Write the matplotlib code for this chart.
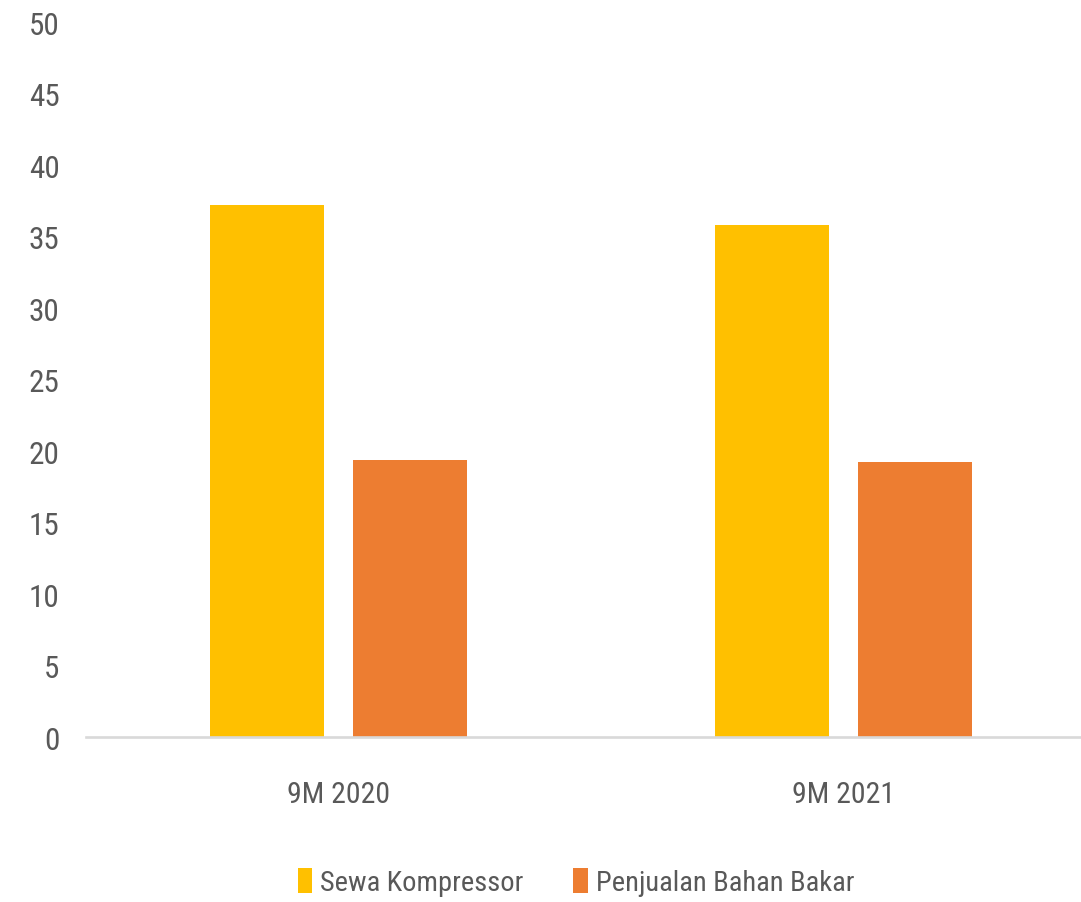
import matplotlib.pyplot as plt
import numpy as np

# Chart data
categories = ["9M 2020", "9M 2021"]
sewa_kompressor = [37.2, 35.8]
penjualan_bahan_bakar = [19.4, 19.2]
y_ticks = [0, 5, 10, 15, 20, 25, 30, 35, 40, 45, 50]

COLORS = {
    "Sewa Kompressor": "#FFC000",
    "Penjualan Bahan Bakar": "#ED7D31",
}
TEXT_COLOR = "#595959"

plt.rcParams['font.family'] = ['Liberation Sans Narrow', 'Roboto Condensed',
                               'Liberation Sans', 'DejaVu Sans']

fig = plt.figure(figsize=(10.81, 9.03), dpi=100)
ax = fig.add_axes([0.0796, 0.1827, 0.934, 0.7918])

x = np.arange(len(categories))
bar_width = 0.2255
offset = 0.1414

ax.bar(x - offset, sewa_kompressor, bar_width,
       color=COLORS["Sewa Kompressor"], label="Sewa Kompressor")
ax.bar(x + offset, penjualan_bahan_bakar, bar_width,
       color=COLORS["Penjualan Bahan Bakar"], label="Penjualan Bahan Bakar")

ax.set_xlim(-0.5, 1.5)
ax.set_ylim(0, 50)
ax.set_yticks(y_ticks)
ax.set_xticks(x)
ax.set_xticklabels(categories)

# Axis styling: only a light gray baseline
for side in ["top", "right", "left"]:
    ax.spines[side].set_visible(False)
ax.spines["bottom"].set_color("#D9D9D9")
ax.spines["bottom"].set_linewidth(1.9)

ax.tick_params(axis='y', length=0, pad=19, labelsize=22.5, labelcolor=TEXT_COLOR)
ax.tick_params(axis='x', length=0, pad=31, labelsize=21.5, labelcolor=TEXT_COLOR)

fig.legend(loc='center', bbox_to_anchor=(576 / 1081, 1 - 883 / 903),
           ncol=2, frameon=False, fontsize=20.5, labelcolor=TEXT_COLOR,
           handlelength=0.5, handleheight=1.0, handletextpad=0.28,
           columnspacing=1.75)

fig.savefig("out.png", dpi=100)
